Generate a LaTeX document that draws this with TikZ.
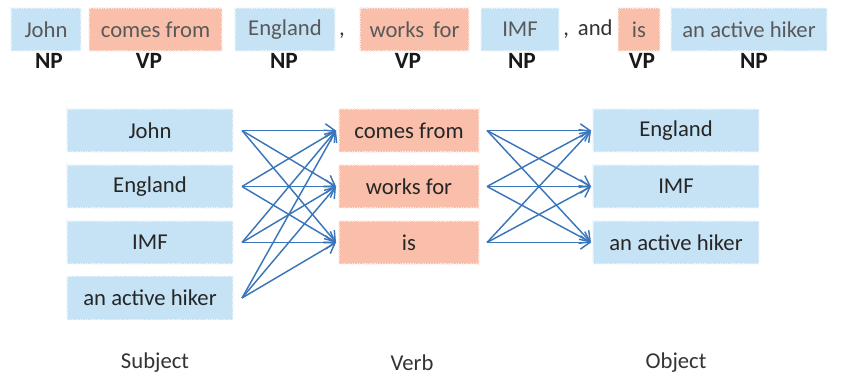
\documentclass[tikz,border=0pt]{standalone}
\usepackage{fontspec}
\setmainfont{Carlito}
\usetikzlibrary{arrows.meta}
\definecolor{npfill}{HTML}{C6E2F5}
\definecolor{vpfill}{HTML}{F9BFAA}
\definecolor{arr}{HTML}{3B76BA}
\definecolor{toptxt}{HTML}{595959}
\definecolor{boxtxt}{HTML}{262626}
\tikzset{
  base/.style={inner sep=0pt, outer sep=0pt, densely dotted, line width=0.9pt, font=\fontsize{17}{19}\selectfont},
  npbox/.style={base, fill=npfill, draw=npfill!30!white},
  vpbox/.style={base, fill=vpfill, draw=vpfill!30!white},
  toptext/.style={text=toptxt},
  lbl/.style={font=\fontsize{17.5}{19}\selectfont\bfseries, text=black!90, inner sep=0pt},
  captxt/.style={font=\fontsize{17}{19}\selectfont, text=black!80, inner sep=0pt},
  septxt/.style={font=\fontsize{17}{19}\selectfont, text=black!80, inner sep=0pt, anchor=base},
  link/.style={draw=arr, line width=1.1pt, -{Straight Barb[length=7pt,width=10pt,line width=1.1pt]}},
}
\begin{document}
\begin{tikzpicture}[x=0.75pt,y=-0.75pt]
\useasboundingbox (0,0) rectangle (841,377);
% top row
\node[npbox,toptext,minimum width=70*0.75pt,minimum height=43*0.75pt] (t1) at (46,29.5) {John};
\node[vpbox,toptext,minimum width=133*0.75pt,minimum height=43*0.75pt] (t2) at (155.5,29.5) {comes from};
\node[npbox,toptext,minimum width=100*0.75pt,minimum height=43*0.75pt] (t3) at (285,29.5) {England};
\node[septxt] (c1) at (342,35.5) {,};
\node[vpbox,toptext,minimum width=109*0.75pt,minimum height=43*0.75pt] (t4) at (414.5,29.5) {works\, for};
\node[npbox,toptext,minimum width=78*0.75pt,minimum height=43*0.75pt] (t5) at (520,29.5) {IMF};
\node[septxt] (c2) at (588,35.5) {,\, and};
\node[vpbox,toptext,minimum width=42*0.75pt,minimum height=43*0.75pt] (t6) at (639,29.5) {is};
\node[npbox,toptext,minimum width=156*0.75pt,minimum height=43*0.75pt] (t7) at (749,29.5) {an active hiker};
\node[lbl] (l1) at (49,61) {NP};
\node[lbl] (l2) at (149,61) {VP};
\node[lbl] (l3) at (284,61) {NP};
\node[lbl] (l4) at (408,61) {VP};
\node[lbl] (l5) at (522,61) {NP};
\node[lbl] (l6) at (642,61) {VP};
\node[lbl] (l7) at (754,61) {NP};
% subjects
\foreach \n/\y/\t in {s1/130.5/John, s2/186.5/England, s3/242.5/IMF, s4/298/an active hiker}
  \node[npbox,text=boxtxt,minimum width=166*0.75pt,minimum height=43*0.75pt] (\n) at (150,\y) {\t};
% verbs
\foreach \n/\y/\t in {v1/130.5/comes from, v2/186.5/works for, v3/242.5/is}
  \node[vpbox,text=boxtxt,minimum width=140*0.75pt,minimum height=43*0.75pt] (\n) at (409,\y) {\t};
% objects
\foreach \n/\y/\t in {o1/130.5/England, o2/186.5/IMF, o3/242.5/an active hiker}
  \node[npbox,text=boxtxt,minimum width=166*0.75pt,minimum height=43*0.75pt] (\n) at (676,\y) {\t};
% links
\foreach \s in {s1,s2,s3,s4}
  \foreach \v in {v1,v2,v3}
    \draw[link] ([xshift=9*0.75pt]\s.east) -- ([xshift=-3*0.75pt]\v.west);
\foreach \v in {v1,v2,v3}
  \foreach \o in {o1,o2,o3}
    \draw[link] ([xshift=8*0.75pt]\v.east) -- ([xshift=-2*0.75pt]\o.west);
% captions
\node[captxt] (k1) at (155,363) {Subject};
\node[captxt] (k2) at (412,363) {Verb};
\node[captxt] (k3) at (676,363) {Object};
\end{tikzpicture}
\end{document}
